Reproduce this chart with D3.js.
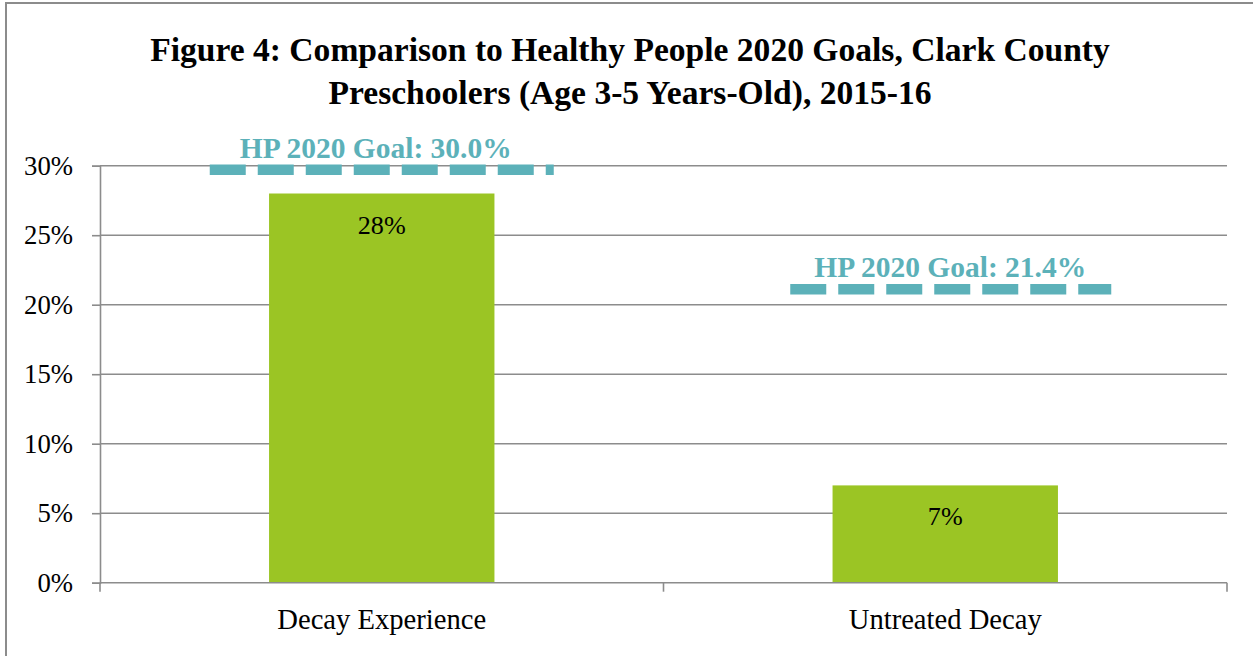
<!DOCTYPE html>
<html>
<head>
<meta charset="utf-8">
<script src="https://cdn.jsdelivr.net/npm/d3@7"></script>
<style>
  html, body { margin: 0; padding: 0; background: #fff; }
  svg { display: block; }
</style>
</head>
<body>
<svg id="chart" width="1253" height="656"></svg>
<script>
// ---- data ----
const titleLines = [
  "Figure 4: Comparison to Healthy People 2020 Goals, Clark County",
  "Preschoolers (Age 3-5 Years-Old), 2015-16"
];
const categories = ["Decay Experience", "Untreated Decay"];
const values = [28, 7];
const goals = [30.0, 21.4];
const goalLabels = ["HP 2020 Goal: 30.0%", "HP 2020 Goal: 21.4%"];
const yTicks = [0, 5, 10, 15, 20, 25, 30];

// ---- layout ----
const W = 1253, H = 656;
const FONT = "'Liberation Serif', 'Times New Roman', serif";
const plot = { left: 100, right: 1227, top: 165.7, bottom: 582.7 };
const goalSpan = [[-172, 172], [-155, 166]];   // dashed goal line extents around bar centre (px)
const goalLabelShift = [-6, 5];
const svg = d3.select("#chart");

function fitSize(text, weight, target) {
  const t = svg.append("text").attr("font-family", FONT).attr("font-weight", weight)
    .attr("font-size", 20).text(text);
  const len = t.node().getComputedTextLength();
  t.remove();
  return 20 * target / len;
}

// outer frame
svg.append("rect").attr("x", 6).attr("y", 3).attr("width", W + 20).attr("height", H + 20)
  .attr("fill", "none").attr("stroke", "#8c8c8c").attr("stroke-width", 2);

// title
const titleSize = fitSize(titleLines[0], "bold", 960);
svg.append("g").selectAll("text").data(titleLines).join("text")
  .attr("x", 630).attr("y", (d, i) => 61 + i * 42.5)
  .attr("text-anchor", "middle").attr("font-family", FONT).attr("font-weight", "bold")
  .attr("font-size", titleSize).attr("fill", "#000").text(d => d);

// scales
const x = d3.scaleBand().domain(categories).range([plot.left, plot.right])
  .paddingInner(0.6).paddingOuter(0.3);
const y = d3.scaleLinear().domain([0, 30]).range([plot.bottom, plot.top]);

// gridlines
svg.append("g").selectAll("line").data(yTicks.filter(d => d > 0)).join("line")
  .attr("x1", plot.left).attr("x2", plot.right)
  .attr("y1", d => y(d)).attr("y2", d => y(d))
  .attr("stroke", "#8c8c8c").attr("stroke-width", 1.6);

// y axis
const tickSize = fitSize("30%", "normal", 49);
const yAxis = svg.append("g").attr("transform", `translate(${plot.left},0)`)
  .call(d3.axisLeft(y).tickValues(yTicks).tickFormat(d => d + "%").tickSize(8).tickPadding(19));
yAxis.select(".domain").attr("stroke", "#8c8c8c").attr("stroke-width", 1.6);
yAxis.selectAll(".tick line").attr("stroke", "#8c8c8c").attr("stroke-width", 1.6);
yAxis.selectAll(".tick text").attr("font-family", FONT).attr("font-size", tickSize)
  .attr("fill", "#000").attr("dy", "0.32em");

// bars
svg.append("g").selectAll("rect").data(values).join("rect")
  .attr("x", (d, i) => x(categories[i]))
  .attr("y", d => y(d))
  .attr("width", x.bandwidth())
  .attr("height", d => y(0) - y(d))
  .attr("fill", "#9bc524");

// x axis (category boundary ticks)
const xa = svg.append("g");
xa.append("line").attr("x1", plot.left).attr("x2", plot.right)
  .attr("y1", y(0)).attr("y2", y(0)).attr("stroke", "#8c8c8c").attr("stroke-width", 1.6);
const bounds = d3.range(categories.length + 1)
  .map(i => plot.left + (plot.right - plot.left) * i / categories.length);
xa.selectAll("line.b").data(bounds).join("line").attr("class", "b")
  .attr("x1", d => d).attr("x2", d => d).attr("y1", y(0)).attr("y2", y(0) + 9)
  .attr("stroke", "#8c8c8c").attr("stroke-width", 1.6);
const catSize = fitSize(categories[0], "normal", 209);
xa.selectAll("text").data(categories).join("text")
  .attr("x", d => x(d) + x.bandwidth() / 2).attr("y", 629)
  .attr("text-anchor", "middle").attr("font-family", FONT).attr("font-size", catSize)
  .attr("fill", "#000").text(d => d);

// data labels
const lblSize = fitSize("28%", "normal", 48);
svg.append("g").selectAll("text").data(values).join("text")
  .attr("x", (d, i) => x(categories[i]) + x.bandwidth() / 2)
  .attr("y", d => y(d) + 40)
  .attr("text-anchor", "middle").attr("font-family", FONT).attr("font-size", lblSize)
  .attr("fill", "#000").text(d => d + "%");

// goal lines
const teal = "#5cb1b9";
const gg = svg.append("g");
gg.selectAll("line").data(goals).join("line")
  .attr("x1", (d, i) => x(categories[i]) + x.bandwidth() / 2 + goalSpan[i][0])
  .attr("x2", (d, i) => x(categories[i]) + x.bandwidth() / 2 + goalSpan[i][1])
  .attr("y1", d => y(d) + 4).attr("y2", d => y(d) + 4)
  .attr("stroke", teal).attr("stroke-width", 10.5).attr("stroke-dasharray", "36 12");
const goalSize = fitSize(goalLabels[0], "bold", 272);
gg.selectAll("text").data(goals).join("text")
  .attr("x", (d, i) => x(categories[i]) + x.bandwidth() / 2 + goalLabelShift[i])
  .attr("y", d => y(d) - 8)
  .attr("text-anchor", "middle").attr("font-family", FONT).attr("font-weight", "bold")
  .attr("font-size", goalSize).attr("fill", teal).text((d, i) => goalLabels[i]);
</script>
</body>
</html>
